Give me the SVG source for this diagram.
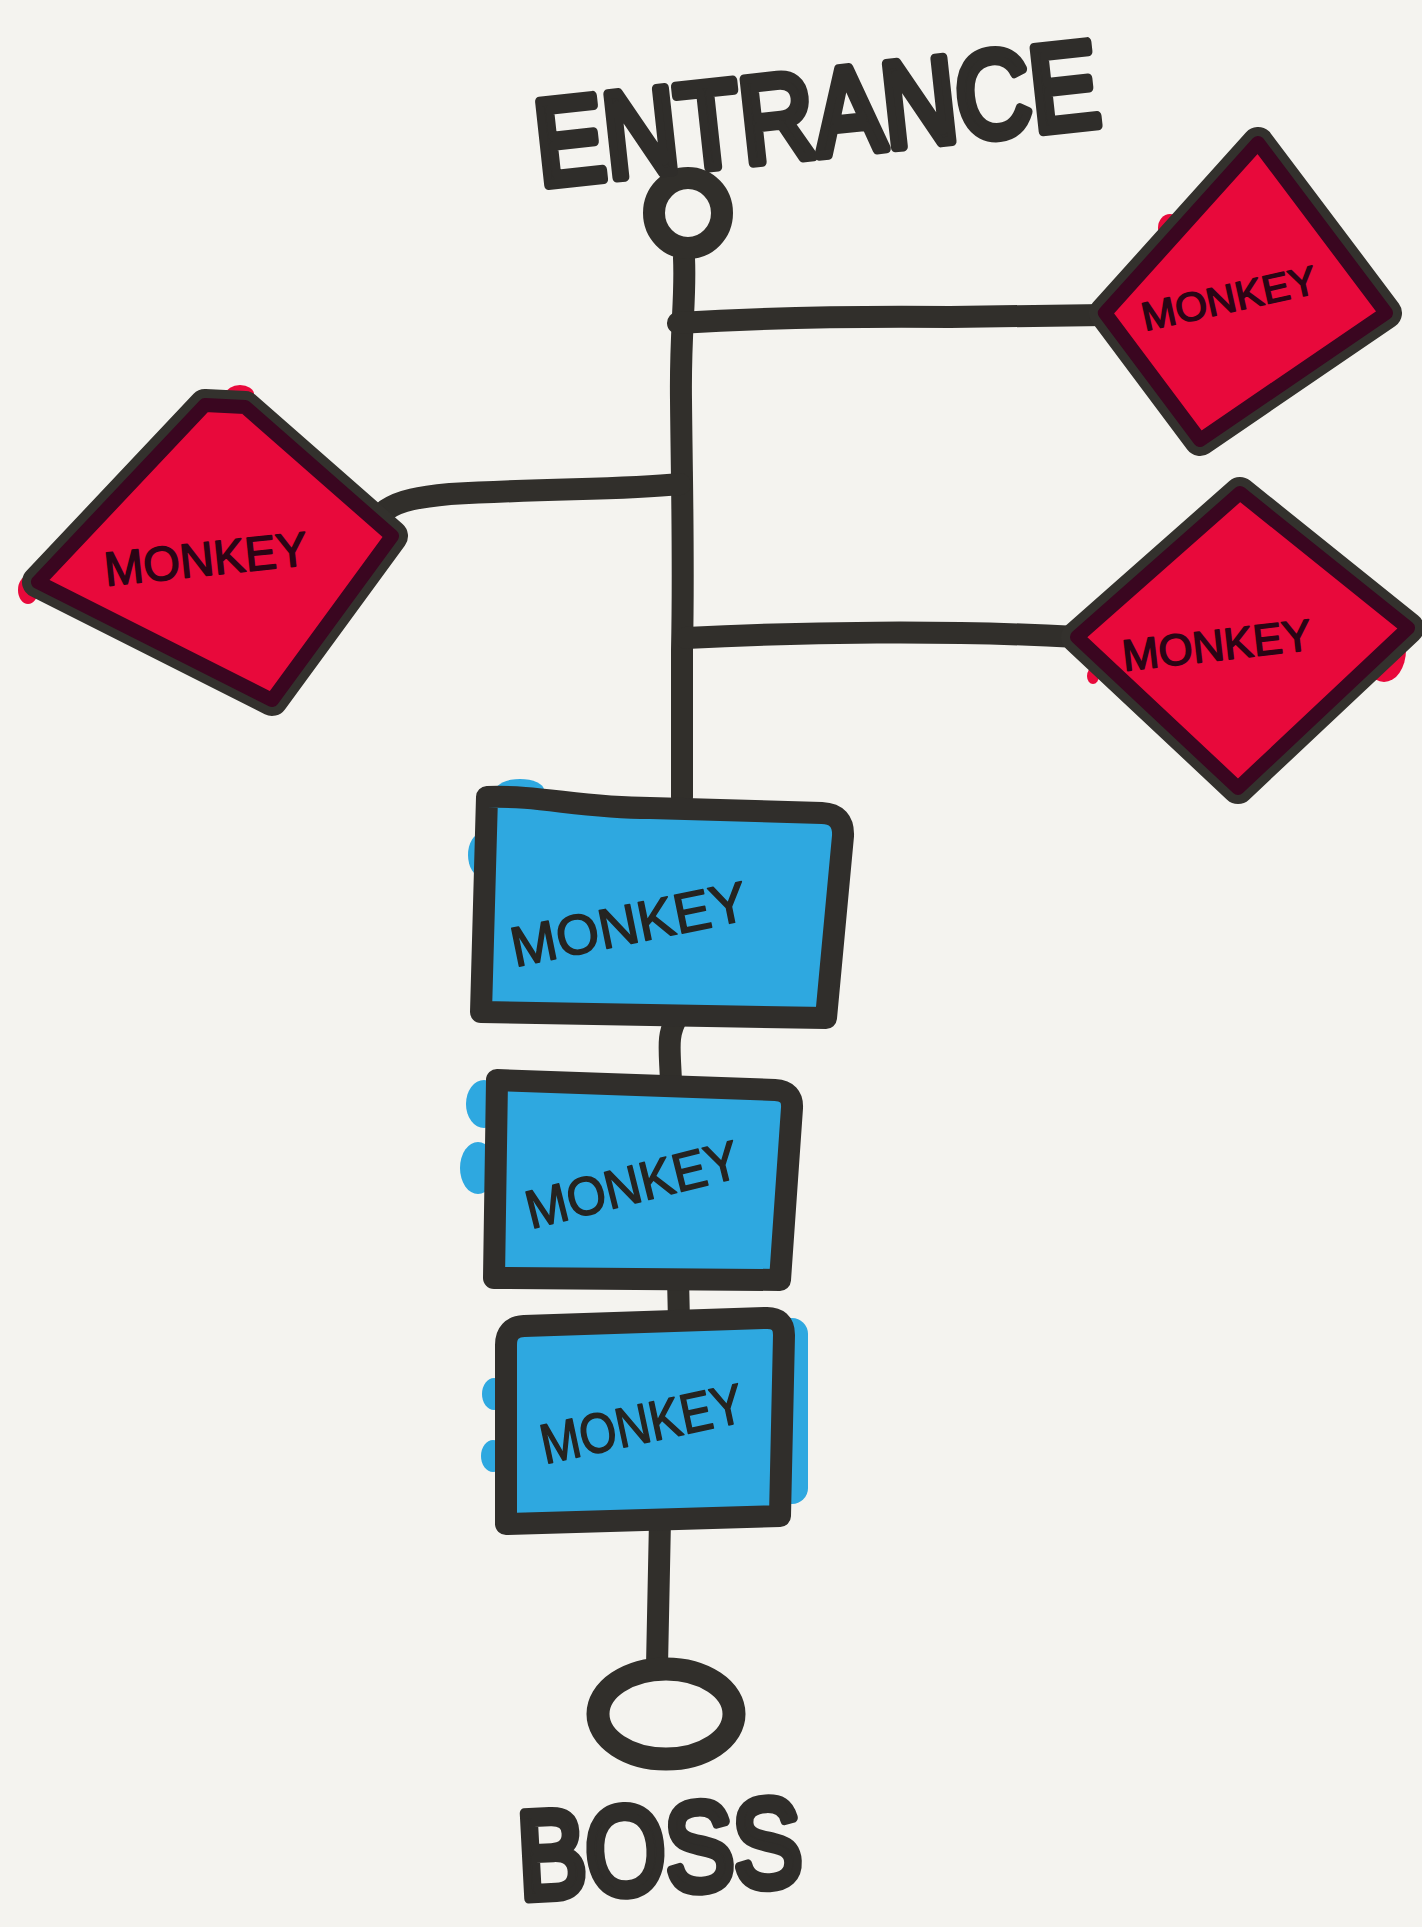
<svg xmlns="http://www.w3.org/2000/svg" width="1422" height="1927" viewBox="0 0 1422 1927">
  <style>
    .ink{fill:none;stroke:#312f2b;stroke-linecap:round;stroke-linejoin:round}
    .wire{stroke-width:22}
    .ring{fill:none;stroke:#33312d;stroke-width:32;stroke-linejoin:round}
    .gem{fill:#e8093b;stroke:#3a0620;stroke-width:14;stroke-linejoin:round}
    .smear-red{fill:#e8093b}
    .smear-blue{fill:#2ea8e0}
    .frame{fill:#2ea8e0;stroke:#302e2b;stroke-width:22;stroke-linejoin:round}
    .label{font-family:"Liberation Sans",Arial,sans-serif;font-weight:400;stroke-width:1.6;stroke-linejoin:round}
    .on-blue{fill:#252421;stroke:#252421}
    .on-red{fill:#2a0414;stroke:#2a0414}
    .title{font-family:"Liberation Sans",Arial,sans-serif;font-weight:400;fill:#2f2d2a;stroke:#2f2d2a;stroke-width:10;stroke-linejoin:round;stroke-linecap:round}
  </style>

  <rect x="0" y="0" width="1422" height="1927" fill="#f4f3ef"/>

  <!-- connectors -->
  <g id="connectors" class="ink wire">
    <path d="M684,258 C686,300 680,330 681,400 C682,500 684,560 682,650 L682,797"/>
    <path d="M678,323 C760,318 850,316 950,317 L1105,315"/>
    <path d="M680,484 C620,490 560,488 450,494 C420,497 400,500 386,510"/>
    <path d="M686,638 C800,632 950,630 1077,637"/>
    <path d="M678,1016 C666,1035 670,1050 671,1082"/>
    <path d="M678,1278 L679,1322"/>
    <path d="M660,1520 L657,1666"/>
  </g>

  <!-- start point -->
  <g id="entrance">
    <ellipse class="ink" cx="688" cy="213" rx="34" ry="35" stroke-width="22"/>
    <text class="title" x="540" y="186" font-size="122" textLength="566" lengthAdjust="spacingAndGlyphs" transform="rotate(-6.2 540 186)">ENTRANCE</text>
  </g>

  <!-- red side rooms -->
  <g id="monkey-right-top">
    <ellipse class="smear-red" cx="1170" cy="228" rx="12" ry="14"/>
    <path class="ring" d="M1258,143 L1386,313 L1200,440 L1105,313 Z"/>
    <path class="gem" d="M1258,143 L1386,313 L1200,440 L1105,313 Z"/>
    <text class="label on-red" x="1145" y="331" font-size="40" textLength="178" lengthAdjust="spacingAndGlyphs" transform="rotate(-12.5 1145 331)">MONKEY</text>
  </g>

  <g id="monkey-left">
    <ellipse class="smear-red" cx="240" cy="394" rx="14" ry="9"/>
    <ellipse class="smear-red" cx="28" cy="590" rx="10" ry="14"/>
    <ellipse class="smear-red" cx="356" cy="498" rx="8" ry="8"/>
    <path class="ring" d="M205,405 L245,407 L392,536 L272,700 L38,582 Z"/>
    <path class="gem" d="M205,405 L245,407 L392,536 L272,700 L38,582 Z"/>
    <text class="label on-red" x="106" y="586" font-size="48" textLength="204" lengthAdjust="spacingAndGlyphs" transform="rotate(-6 106 586)">MONKEY</text>
  </g>

  <g id="monkey-right-bottom">
    <ellipse class="smear-red" cx="1384" cy="650" rx="22" ry="32"/>
    <ellipse class="smear-red" cx="1093" cy="676" rx="6" ry="8"/>
    <path class="ring" d="M1240,493 L1408,628 L1238,788 L1077,637 Z"/>
    <path class="gem" d="M1240,493 L1408,628 L1238,788 L1077,637 Z"/>
    <text class="label on-red" x="1124" y="671" font-size="44" textLength="190" lengthAdjust="spacingAndGlyphs" transform="rotate(-6.5 1124 671)">MONKEY</text>
  </g>

  <!-- blue main-path rooms -->
  <g id="monkey-main-1">
    <ellipse class="smear-blue" cx="482" cy="855" rx="14" ry="22"/>
    <ellipse class="smear-blue" cx="520" cy="790" rx="24" ry="11"/>
    <path class="frame" d="M487,797 C540,795 580,808 650,808 L822,813 Q844,814 843,836 L826,1018 L481,1012 Z"/>
    <text class="label on-blue" x="515" y="967" font-size="56" textLength="240" lengthAdjust="spacingAndGlyphs" transform="rotate(-11.5 515 967)">MONKEY</text>
  </g>

  <g id="monkey-main-2">
    <ellipse class="smear-blue" cx="484" cy="1104" rx="18" ry="24"/>
    <ellipse class="smear-blue" cx="478" cy="1168" rx="18" ry="26"/>
    <path class="frame" d="M497,1080 L775,1090 Q793,1091 792,1108 L780,1280 L494,1278 Z"/>
    <text class="label on-blue" x="531" y="1229" font-size="54" textLength="218" lengthAdjust="spacingAndGlyphs" transform="rotate(-14 531 1229)">MONKEY</text>
  </g>

  <g id="monkey-main-3">
    <ellipse class="smear-blue" cx="494" cy="1394" rx="12" ry="16"/>
    <ellipse class="smear-blue" cx="493" cy="1456" rx="12" ry="16"/>
    <rect class="smear-blue" x="772" y="1318" width="36" height="186" rx="16"/>
    <path class="frame" d="M506,1345 Q506,1327 524,1326 L765,1318 Q784,1317 784,1335 L780,1516 L506,1524 Z"/>
    <text class="label on-blue" x="545" y="1464" font-size="56" textLength="206" lengthAdjust="spacingAndGlyphs" transform="rotate(-12 545 1464)">MONKEY</text>
  </g>

  <!-- end point -->
  <g id="boss">
    <ellipse class="ink" cx="666" cy="1714" rx="68" ry="45" stroke-width="23"/>
    <text class="title" x="520" y="1899" font-size="124" textLength="284" lengthAdjust="spacingAndGlyphs" transform="rotate(-3 520 1899)">BOSS</text>
  </g>
</svg>
